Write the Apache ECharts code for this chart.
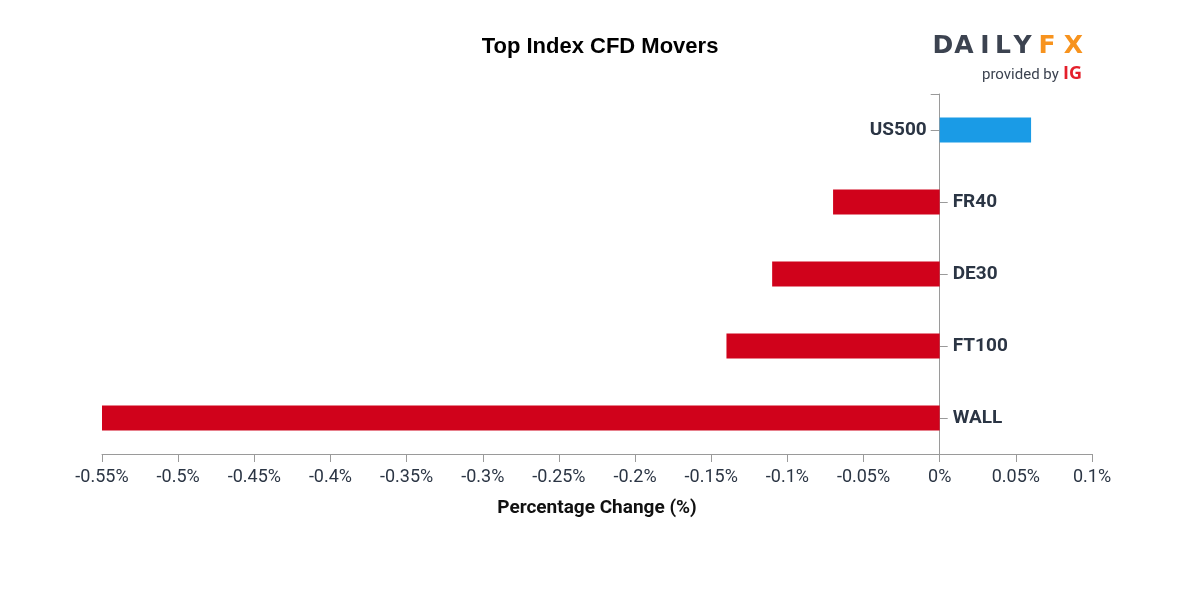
<!DOCTYPE html>
<html>
<head>
<meta charset="utf-8">
<script src="https://cdn.jsdelivr.net/npm/echarts@6/dist/echarts.min.js"></script>
<style>html,body{margin:0;padding:0;background:#fff}#c{width:1200px;height:600px}</style>
</head>
<body>
<div id="c"></div>
<script>
const categories = ['US500', 'FR40', 'DE30', 'FT100', 'WALL'];
const changes = [0.06, -0.07, -0.11, -0.14, -0.55];
const xMin = -0.55, xMax = 0.1, xStep = 0.05;
const titleText = 'Top Index CFD Movers';
const axisTitle = 'Percentage Change (%)';

const POS = '#1a9be6', NEG = '#d0021b';
const AXIS = '#9a9a9a';
const TXT = '#2b3544';

const chart = echarts.init(document.getElementById('c'), null, {renderer: 'canvas'});

const barData = changes.map(v => ({
  value: v,
  itemStyle: {color: v >= 0 ? POS : NEG},
  label: {position: v >= 0 ? 'left' : 'right'}
}));

const baseY = {
  type: 'category',
  data: categories,
  inverse: true,
  axisLabel: {show: false},
  splitLine: {show: false}
};

const logoLetters = [
  ['D', 943, '#3c4350'], ['A', 964, '#3c4350'], ['I', 985, '#3c4350'],
  ['L', 1003, '#3c4350'], ['Y', 1022.5, '#3c4350'], ['F', 1047, '#f7931e'], ['X', 1073.5, '#f7931e']
];

chart.setOption({
  animation: false,
  title: {
    text: titleText,
    left: 'center',
    top: 31,
    textStyle: {fontFamily: 'Liberation Sans, Arial, sans-serif', fontSize: 22, fontWeight: 'bold', color: '#000'}
  },
  grid: {left: 102, right: 108, top: 94, bottom: 146, containLabel: false},
  xAxis: {
    type: 'value',
    min: xMin,
    max: xMax,
    interval: xStep,
    name: axisTitle,
    nameLocation: 'middle',
    nameGap: 45,
    nameTextStyle: {fontFamily: 'Roboto, sans-serif', fontSize: 19, fontWeight: 'bold', color: '#111'},
    axisLine: {show: true, onZero: false, lineStyle: {color: AXIS, width: 1}},
    axisTick: {show: true, length: 8, lineStyle: {color: AXIS}},
    splitLine: {show: false},
    axisLabel: {
      margin: 14,
      fontFamily: 'Roboto, sans-serif',
      fontSize: 18,
      color: TXT,
      formatter: v => parseFloat(v.toFixed(2)) + '%'
    }
  },
  yAxis: [
    Object.assign({}, baseY, {
      position: 'left',
      axisLine: {show: true, onZero: true, onZeroAxisIndex: 0, lineStyle: {color: AXIS, width: 1}},
      axisTick: {show: true, alignWithLabel: true, length: 9, lineStyle: {color: AXIS},
        interval: i => changes[i] >= 0}
    }),
    Object.assign({}, baseY, {
      position: 'right',
      axisLine: {show: false, onZero: true, onZeroAxisIndex: 0},
      axisTick: {show: true, alignWithLabel: true, length: 8, lineStyle: {color: AXIS},
        interval: i => changes[i] < 0}
    }),
    Object.assign({}, baseY, {
      position: 'left',
      axisLine: {show: false, onZero: true, onZeroAxisIndex: 0},
      axisTick: {show: true, alignWithLabel: false, length: 9, lineStyle: {color: AXIS},
        interval: i => i === 0}
    })
  ],
  series: [{
    type: 'bar',
    xAxisIndex: 0,
    yAxisIndex: 0,
    data: barData,
    barWidth: 25,
    label: {
      show: true,
      formatter: '{b}',
      distance: 13,
      fontFamily: 'Roboto, sans-serif',
      fontSize: 19,
      fontWeight: 'bold',
      color: TXT
    }
  }],
  graphic: [
    ...logoLetters.map(([ch, x, col]) => ({
      type: 'text',
      x: x,
      y: 46,
      style: {text: ch, fill: col, font: 'bold 25px "DejaVu Sans", sans-serif', align: 'center', verticalAlign: 'middle'}
    })),
    {type: 'text', x: 982, y: 75, style: {text: 'provided by', fill: '#3c4350', font: '15px Roboto, sans-serif', verticalAlign: 'middle'}},
    {type: 'text', x: 1063, y: 74, style: {text: 'IG', fill: '#e41f2b', font: 'bold 18px "Open Sans", sans-serif', verticalAlign: 'middle'}}
  ]
});
</script>
</body>
</html>
